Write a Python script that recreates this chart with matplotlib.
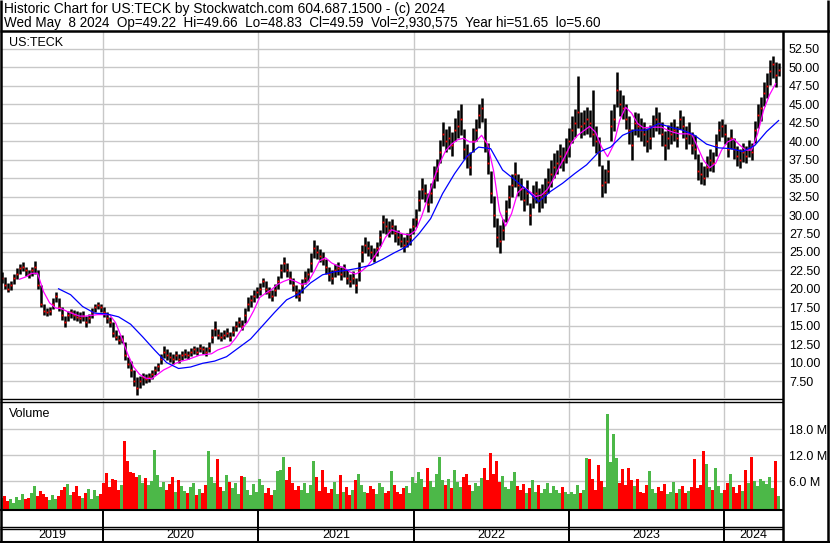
import matplotlib
matplotlib.use("Agg")
import matplotlib.pyplot as plt
import numpy as np
import pandas as pd

plt.rcParams["font.family"] = ["Liberation Sans", "DejaVu Sans"]

W, H = 830, 543

# weekly bars, May 2019 -> May 2024
close = [
    21.5, 20.5, 20.0, 20.5, 21.5, 22.0, 22.8, 23.0, 22.5, 22.0,
    22.5, 23.0, 20.5, 18.0, 17.0, 16.8, 17.0, 18.0, 19.0, 17.5,
    16.5, 15.5, 16.5, 16.8, 16.5, 16.2, 16.0, 16.3, 15.5, 16.0,
    16.8, 17.5, 17.8, 17.5, 16.8, 16.0, 15.5, 14.0, 13.5, 13.0,
    13.2, 11.0, 9.8, 9.0, 7.5, 6.5, 7.5, 8.0, 7.8, 8.0,
    8.5, 9.0, 9.5, 10.5, 11.5, 11.0, 10.8, 10.5, 11.0, 10.5,
    11.0, 11.2, 11.0, 11.5, 11.8, 11.5, 12.0, 11.8, 11.5, 12.0,
    13.5, 14.5, 13.8, 13.5, 13.8, 14.0, 13.5, 14.2, 15.0, 15.5,
    15.0, 16.5, 18.0, 18.5, 19.0, 19.5, 20.0, 21.0, 20.0, 19.5,
    19.0, 19.8, 21.0, 22.5, 23.5, 22.5, 21.5, 20.5, 19.5, 19.0,
    20.5, 21.5, 22.0, 23.5, 25.5, 25.0, 24.5, 24.0, 23.0, 22.0,
    21.5, 22.5, 22.8, 22.0, 22.5, 21.5, 21.0, 21.5, 20.5, 22.5,
    25.0, 26.0, 25.5, 25.0, 24.5, 25.5, 27.0, 29.0, 28.5, 28.0,
    28.5, 27.5, 27.0, 26.5, 26.0, 26.5, 27.0, 28.5, 29.5, 32.0,
    33.5, 33.0, 31.5, 33.0, 35.0, 36.0, 38.5, 41.0, 40.0, 40.5,
    39.5, 41.5, 42.0, 43.0, 39.0, 38.0, 36.5, 40.0, 41.5, 43.5,
    44.5, 40.0, 37.0, 33.0, 30.0, 27.0, 26.5, 28.0, 30.5, 32.5,
    34.0, 35.5, 34.0, 33.5, 32.0, 33.0, 30.0, 32.5, 33.0, 32.0,
    32.5, 33.0, 34.5, 35.5, 36.5, 37.0, 38.0, 37.5, 38.5, 40.0,
    41.5, 42.5, 44.0, 42.0, 42.5, 43.0, 42.5, 41.0, 40.0, 38.5,
    34.0, 34.5, 36.0, 42.0, 43.0, 47.0, 45.0, 44.5, 43.0, 41.5,
    39.5, 42.5, 42.0, 41.5, 41.0, 40.0, 40.5, 42.0, 43.0, 42.5,
    41.0, 39.5, 40.5, 41.0, 41.5, 40.5, 43.0, 42.0, 40.5, 41.0,
    39.5, 39.0, 36.0, 35.5, 35.0, 36.5, 37.5, 37.0, 39.5, 41.5,
    42.0, 41.0, 39.0, 40.5, 39.0, 38.0, 37.5, 38.5, 38.0, 39.0,
    38.5, 41.5, 43.5, 44.5, 46.5, 47.5, 49.5, 50.5, 49.0, 49.6,
]
low = [
    20.8, 20.0, 19.6, 19.8, 20.6, 21.3, 22.0, 22.4, 21.8, 21.4,
    21.8, 22.0, 20.0, 17.5, 16.5, 16.3, 16.4, 17.2, 18.2, 17.0,
    15.8, 14.8, 15.6, 16.0, 15.8, 15.6, 15.3, 15.7, 14.8, 15.3,
    16.0, 16.8, 17.2, 16.8, 16.2, 15.4, 14.8, 13.5, 13.0, 12.5,
    12.6, 10.3, 9.2, 8.0, 6.8, 5.6, 6.6, 7.0, 7.2, 7.4,
    7.8, 8.3, 8.8, 9.8, 10.6, 10.4, 10.1, 9.8, 10.4, 10.0,
    10.4, 10.6, 10.5, 10.9, 11.2, 11.0, 11.4, 11.2, 10.9, 11.4,
    12.6, 13.6, 13.2, 12.9, 13.2, 13.4, 12.9, 13.6, 14.3, 14.8,
    14.4, 15.4, 17.0, 17.6, 18.2, 18.7, 19.2, 20.2, 19.3, 18.8,
    18.3, 19.0, 20.0, 21.4, 22.3, 21.6, 20.6, 19.7, 18.7, 18.3,
    19.4, 20.6, 21.0, 22.3, 24.2, 24.0, 23.6, 23.2, 22.0, 21.0,
    20.7, 21.6, 21.9, 21.2, 21.6, 20.6, 20.2, 20.6, 19.4, 21.0,
    23.6, 24.8, 24.5, 24.0, 23.6, 24.4, 25.8, 27.6, 27.4, 27.0,
    27.4, 26.4, 26.0, 25.6, 25.0, 25.6, 26.0, 27.4, 28.4, 30.6,
    32.2, 31.8, 30.4, 31.6, 33.6, 34.6, 37.0, 39.4, 38.6, 39.0,
    38.0, 40.0, 40.4, 40.8, 37.6, 36.4, 35.4, 38.6, 40.0, 41.8,
    42.6, 38.6, 35.6, 31.6, 28.4, 25.6, 24.8, 26.6, 29.0, 31.0,
    32.4, 33.8, 32.6, 32.0, 30.6, 31.4, 28.6, 31.0, 31.6, 30.4,
    31.0, 31.6, 33.0, 33.8, 35.0, 35.6, 36.4, 36.0, 37.0, 37.8,
    39.8, 40.6, 41.8, 40.4, 40.8, 41.0, 40.6, 39.4, 38.4, 36.6,
    32.4, 33.0, 34.4, 40.0, 41.4, 44.6, 43.4, 43.0, 41.6, 39.6,
    37.4, 40.8, 40.6, 40.0, 39.4, 38.6, 39.0, 40.6, 41.4, 41.0,
    39.4, 37.4, 39.0, 39.6, 40.0, 39.2, 41.6, 40.4, 39.0, 39.6,
    38.2, 37.6, 34.8, 34.2, 34.0, 35.2, 36.0, 35.8, 38.0, 40.0,
    40.6, 39.6, 37.8, 39.0, 37.6, 36.6, 36.4, 37.2, 37.0, 37.8,
    37.4, 39.8, 41.8, 42.8, 44.8, 45.8, 47.6, 48.6, 47.4, 48.8,
]
high = [
    22.3, 21.6, 20.8, 21.0, 22.0, 22.8, 23.4, 23.6, 23.0, 22.6,
    23.0, 23.7, 22.5, 20.5, 18.0, 17.4, 17.6, 18.8, 19.6, 18.8,
    17.5, 16.3, 17.0, 17.3, 17.1, 17.0, 16.8, 17.0, 16.3, 16.6,
    17.4, 18.0, 18.2, 18.0, 17.6, 16.9, 16.2, 15.5, 14.4, 13.8,
    13.8, 12.8, 10.8, 10.2, 9.0, 8.0, 8.2, 8.6, 8.4, 8.6,
    9.0, 9.6, 10.0, 11.2, 12.3, 11.8, 11.4, 11.1, 11.6, 11.2,
    11.6, 11.8, 11.6, 12.0, 12.3, 12.1, 12.5, 12.3, 12.1, 12.8,
    14.6, 15.6, 14.6, 14.1, 14.4, 14.7, 14.2, 14.9, 15.7, 16.2,
    15.8, 17.4, 18.9, 19.2, 19.8, 20.2, 20.8, 21.4, 21.0, 20.3,
    19.9, 20.6, 21.8, 23.4, 24.3, 23.5, 22.4, 21.5, 20.5, 20.0,
    21.3, 22.4, 22.8, 24.8, 26.6, 26.0, 25.4, 25.0, 24.0, 23.0,
    22.5, 23.4, 23.6, 23.0, 23.4, 22.5, 22.0, 22.4, 21.4, 23.6,
    26.0, 27.0, 26.5, 26.0, 25.5, 26.4, 28.0, 30.0, 29.6, 29.2,
    29.4, 28.6, 28.0, 27.6, 27.0, 27.5, 28.2, 29.6, 30.8, 33.4,
    35.0, 34.2, 33.0, 34.4, 36.6, 37.6, 40.2, 42.6, 41.6, 42.0,
    41.2, 43.2, 44.2, 45.0, 41.6, 39.6, 38.6, 41.8, 43.0, 45.0,
    45.8, 43.2, 39.8, 36.0, 32.6, 29.6, 28.6, 29.4, 32.0, 34.0,
    35.6, 37.2, 35.6, 35.0, 33.6, 34.8, 31.6, 34.0, 34.6, 33.6,
    34.2, 35.0, 36.4, 37.4, 38.4, 38.8, 39.6, 39.2, 40.4, 41.8,
    43.4, 44.4, 48.8, 44.0, 44.2, 44.6, 44.2, 47.0, 42.0, 40.6,
    36.8, 36.2, 37.4, 44.2, 45.0, 49.4, 47.0, 46.2, 45.0, 43.4,
    41.6, 44.0, 43.8, 43.2, 42.6, 41.8, 42.2, 43.6, 44.6, 44.0,
    42.6, 41.4, 42.2, 42.6, 43.0, 42.0, 44.2, 43.4, 42.0, 42.6,
    41.2, 40.8, 38.2, 37.2, 36.6, 38.0, 39.0, 38.6, 41.0, 42.8,
    43.0, 42.4, 40.6, 41.6, 40.4, 39.4, 39.0, 39.8, 39.4, 40.2,
    39.8, 42.8, 45.0, 46.0, 48.0, 49.2, 51.0, 51.6, 50.8, 50.6,
]
# millions of shares
volume = [
    2.5, 3.0, 1.8, 2.2, 1.5, 2.8, 2.0, 3.5, 2.2, 2.5,
    3.8, 5.3, 3.0, 4.2, 3.5, 2.8, 2.0, 3.2, 2.4, 3.0,
    4.5, 5.1, 5.7, 3.2, 4.0, 5.3, 3.0, 2.6, 3.6, 4.7,
    2.2, 4.3, 3.0, 3.5, 6.0, 8.3, 5.0, 7.0, 6.6, 4.5,
    5.5, 15.8, 11.0, 8.6, 8.3, 7.5, 7.8, 6.0, 7.2, 5.5,
    6.5, 13.7, 7.8, 5.0, 6.2, 4.5, 5.8, 7.4, 4.0, 6.8,
    5.2, 4.2, 3.6, 5.0, 6.0, 3.2, 4.6, 3.8, 5.5, 13.4,
    7.4, 6.0, 11.6, 5.0, 4.2, 7.8, 6.2, 4.8, 6.0, 3.5,
    7.6, 7.4, 4.5, 3.2, 5.8, 4.0, 7.0, 5.5, 3.6, 4.8,
    3.2, 4.4, 8.8, 9.1, 12.1, 6.6, 9.7, 6.0, 4.5, 5.2,
    4.5, 6.0, 3.8, 5.5, 11.0, 7.5, 4.2, 9.0, 5.0, 3.8,
    4.6, 6.2, 3.5, 7.8, 4.0, 5.0, 3.2, 4.4, 6.8, 8.0,
    5.5, 4.0, 3.6, 5.2, 4.6, 3.4, 6.0, 5.0, 3.8, 4.2,
    8.8, 5.6, 4.0, 3.5, 4.8, 5.4, 3.6, 7.5, 6.0, 8.5,
    7.0, 5.0, 9.5, 6.5, 5.0, 8.0, 12.0, 6.8, 5.5, 7.0,
    4.8, 9.0, 6.2, 5.0, 7.5, 8.0, 5.5, 4.2, 6.0, 5.4,
    7.2, 9.5, 6.8, 13.0, 8.0, 11.0, 6.2, 7.6, 5.0, 4.6,
    6.4, 8.5, 5.2, 4.4, 5.8, 3.8, 4.8, 6.8, 4.0, 5.6,
    3.6, 4.6, 6.0, 3.8, 5.2, 4.4, 3.6, 5.0, 4.0, 3.4,
    4.0, 3.5, 5.5, 3.8, 4.5, 11.8, 11.6, 7.0, 4.5, 10.2,
    6.5, 5.0, 22.0, 10.8, 17.4, 11.8, 6.0, 9.2, 5.5, 9.5,
    6.8, 5.2, 7.0, 4.0, 3.8, 5.5, 8.7, 4.6, 3.6, 5.0,
    4.2, 5.8, 3.5, 4.0, 6.2, 3.8, 4.6, 5.4, 3.6, 4.2,
    5.0, 11.6, 4.8, 5.6, 13.4, 10.3, 5.0, 4.4, 9.4, 5.2,
    3.8, 4.4, 6.0, 8.1, 5.0, 3.8, 5.5, 4.2, 8.9, 6.0,
    12.0, 6.5, 5.4, 7.0, 6.5, 5.8, 7.3, 4.8, 11.0, 3.0,
]
# magenta average, every 2nd bar starting at bar 6
ma_fast = [
    21.3, 21.6, 22.1, 22.1, 19.6, 18.1, 17.4, 17.3, 16.9, 16.6,
    16.3, 16.3, 16.4, 16.5, 16.5, 16.5, 15.4, 13.4, 11.2, 9.4,
    8.4, 7.9, 7.8, 8.4, 9.0, 9.4, 9.9, 10.2, 10.4, 10.7,
    11.0, 11.1, 11.2, 11.7, 12.0, 12.3, 13.3, 14.5, 15.5, 17.0,
    18.8, 19.4, 19.9, 20.6, 21.0, 21.3, 21.0, 20.6, 20.8, 22.2,
    23.8, 24.2, 23.5, 23.1, 22.9, 22.3, 22.0, 22.4, 23.1, 24.2,
    25.4, 27.0, 28.0, 27.7, 27.4, 27.3, 27.9, 29.8, 32.2, 34.8,
    37.0, 38.7, 39.6, 40.2, 40.4, 39.9, 39.9, 40.8, 39.6, 36.0,
    30.5, 28.5, 30.2, 33.0, 33.8, 33.2, 32.5, 32.7, 33.5, 34.9,
    36.6, 38.1, 39.8, 40.8, 41.4, 42.0, 41.2, 39.2, 37.9, 39.5,
    42.8, 44.6, 43.8, 42.4, 41.8, 41.9, 41.9, 41.9, 41.5, 41.2,
    41.0, 41.0, 41.0, 39.2, 37.4, 36.4, 37.0, 38.8, 39.9, 40.3,
    39.5, 38.8, 38.8, 41.0, 44.2, 46.3, 47.8,
]
# blue average, every 4th bar starting at bar 19
ma_slow = [
    20.0, 19.2, 17.6, 16.7, 16.6, 16.2, 15.2, 13.5, 11.7, 10.0,
    9.2, 9.4, 9.9, 10.2, 10.8, 12.0, 13.2, 15.0, 16.8, 18.5,
    19.3, 20.8, 21.9, 22.3, 22.5, 22.8, 23.2, 24.0, 24.9, 25.7,
    27.4, 29.5, 32.9, 35.6, 37.9, 39.2, 39.0, 36.1, 34.8, 33.4,
    31.8, 33.2, 34.3, 35.6, 36.8, 38.5, 39.2, 40.8, 41.5, 41.5,
    42.4, 41.9, 41.5, 40.8, 39.6, 39.1, 39.0, 38.6, 39.4, 41.3,
    42.8,
]
years = [2019, 2020, 2021, 2022, 2023, 2024]
price_ticks = np.arange(7.5, 52.6, 2.5)
vol_ticks = [6, 12, 18]

header1 = "Historic Chart for US:TECK by Stockwatch.com 604.687.1500 - (c) 2024"
header2 = ("Wed May  8 2024  Op=49.22  Hi=49.66  Lo=48.83  Cl=49.59  "
           "Vol=2,930,575  Year hi=51.65  lo=5.60")

dates = pd.date_range("2019-05-08", "2024-05-08", periods=len(close))
x0, x1 = pd.Timestamp("2019-05-09"), pd.Timestamp("2024-05-16")
year_starts = [pd.Timestamp(f"{y}-01-01") for y in years[1:]]

GRID = "#c8c8c8"
GREEN = "#4cb848"
RED = "#ff0000"

fig = plt.figure(figsize=(W / 100, H / 100), dpi=100)
fig.patch.set_facecolor("white")


def px_axes(left, top, right, bottom):
    return fig.add_axes([left / W, 1 - bottom / H, (right - left) / W, (bottom - top) / H])


def plain(ax):
    for s in ax.spines.values():
        s.set_visible(False)
    ax.set_xlim(x0, x1)
    ax.set_xticks(year_starts)
    ax.tick_params(axis="x", length=0, labelbottom=False)
    ax.grid(True, color=GRID, lw=1.0)
    ax.set_axisbelow(True)


# price panel
ax = px_axes(2, 32, 782, 398)
plain(ax)
ax.set_ylim(5.2, 54.8)
ax.set_yticks(price_ticks)
ax.set_yticklabels([f"{v:.2f}" for v in price_ticks])
ax.yaxis.tick_right()
ax.tick_params(axis="y", length=0, pad=5, labelsize=9)
ax.vlines(dates, low, high, color="black", lw=1.8)
ax.plot(dates, close, ls="none", marker="s", ms=1.3, color=RED, mew=0)
ax.plot(dates[6::2], ma_fast, color="#ff00ff", lw=0.9)
ax.plot(dates[19::4], ma_slow, color="#0000ff", lw=0.9)
ax.text(0.009, 0.97, "US:TECK", transform=ax.transAxes, fontsize=9, va="center")

# volume panel
vax = px_axes(2, 401, 782, 509)
plain(vax)
vax.set_ylim(-0.45, 24.5)
vax.set_yticks(vol_ticks)
vax.set_yticklabels([f"{v:.1f} M" for v in vol_ticks])
vax.yaxis.tick_right()
vax.tick_params(axis="y", length=0, pad=5, labelsize=9)
chg = np.diff(np.asarray(close), prepend=close[0])
colors = np.where(chg < 0, RED, GREEN)
vax.bar(dates, volume, width=6.3, color=colors, lw=0, bottom=-0.45)
vax.text(0.009, 0.88, "Volume", transform=vax.transAxes, fontsize=9, va="center")

# year strip
bax = px_axes(2, 509, 782, 541)
for s in bax.spines.values():
    s.set_visible(False)
bax.set_xlim(x0, x1)
bax.set_ylim(0, 1)
bax.set_xticks([])
bax.set_yticks([])
for ys in year_starts:
    bax.axvline(ys, color="black", lw=1.4)
edges = [x0] + year_starts + [x1]
for y, a, b in zip(years, edges[:-1], edges[1:]):
    bax.text(a + (b - a) / 2, 0.2, str(y), ha="center", va="center", fontsize=9)

# frame and header
ov = fig.add_axes([0, 0, 1, 1], zorder=10)
ov.set_xlim(0, W)
ov.set_ylim(H, 0)
ov.axis("off")
ov.patch.set_alpha(0)
k = dict(color="black", solid_capstyle="butt")
ov.plot([1.2, 1.2], [0, H], lw=1.8, **k)
ov.plot([828, 828], [0, H], lw=1.8, **k)
ov.plot([0, W], [541.5, 541.5], lw=1.5, **k)
ov.plot([0, W], [31, 31], lw=1.8, **k)
ov.plot([783, 783], [31, H], lw=1.8, **k)
ov.plot([0, 783], [398.5, 398.5], lw=1.0, **k)
ov.plot([0, 783], [401.5, 401.5], lw=1.0, **k)
ov.plot([0, 783], [509.5, 509.5], lw=1.5, **k)
ov.plot([0, 783], [526.5, 526.5], lw=1.0, **k)
ov.plot([0, 783], [529, 529], lw=1.0, **k)
ov.text(4, 9, header1, fontsize=9.9, va="center")
ov.text(4, 22.5, header2, fontsize=9.75, va="center")

fig.savefig("out.png", dpi=100)
